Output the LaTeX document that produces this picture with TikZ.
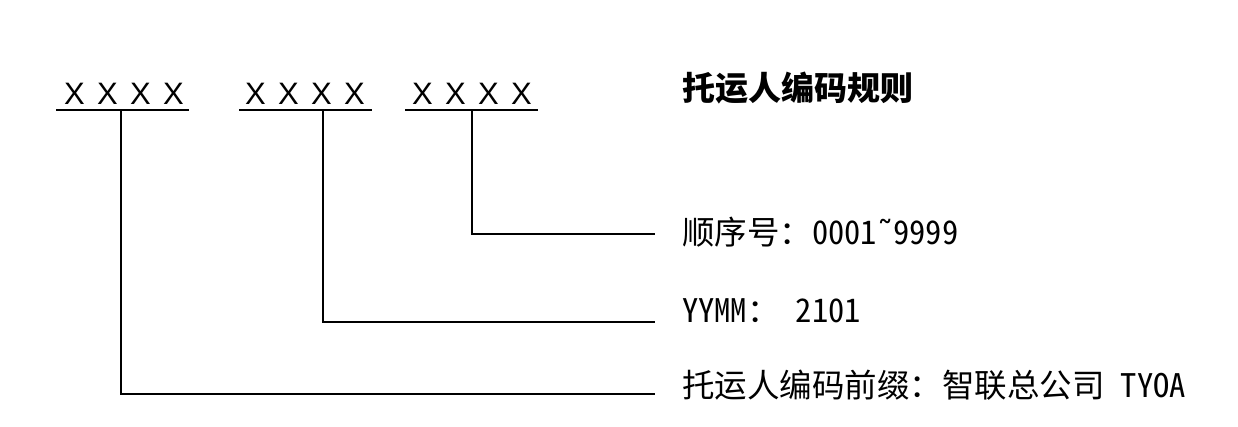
\documentclass[tikz,border=0pt]{standalone}
\usepackage{fontspec}
\setmainfont{Noto Sans CJK SC}[RawFeature=+hwid]
\newfontfamily\xfont{Liberation Sans}
\newfontfamily\symfont{DejaVu Sans}
\newcommand{\xxxx}{X\hskip12.3pt X\hskip12.3pt X\hskip12.3pt X}
\begin{document}
\begin{tikzpicture}[x=1pt,y=-1pt,
  wire/.style={line width=2pt},
  xs/.style={anchor=base, inner sep=0pt, font=\xfont\fontsize{31}{31}\selectfont},
  lbl/.style={anchor=base west, inner sep=0pt, font=\fontsize{32.5}{32.5}\selectfont},
  ttl/.style={anchor=base west, inner sep=0pt, font=\fontsize{33}{33}\selectfont\bfseries}]
\useasboundingbox[fill=white] (0,0) rectangle (1238,427);

% code groups
\node[xs] (g1) at (124,105) {\xxxx};
\node[xs] (g2) at (305,105) {\xxxx};
\node[xs] (g3) at (472,105) {\xxxx};
\coordinate (u1a) at (56,110);  \coordinate (u1b) at (189,110);
\coordinate (u2a) at (239,110); \coordinate (u2b) at (372,110);
\coordinate (u3a) at (405,110); \coordinate (u3b) at (538,110);
\draw[wire] (u1a) -- (u1b);
\draw[wire] (u2a) -- (u2b);
\draw[wire] (u3a) -- (u3b);

% labels
\node[ttl] (title) at (682,101) {托运人编码规则};
\node[lbl] (r1) at (682,245) {顺序号：0001{\symfont ˜}9999};
\node[lbl] (r2) at (682,322) {YYMM： 2101};
\node[lbl] (r3) at (682,397) {托运人编码前缀：智联总公司 TYOA};

% connectors
\coordinate (t1) at (121,110); \coordinate (e1) at (655,394);
\coordinate (t2) at (323,110); \coordinate (e2) at (655,322);
\coordinate (t3) at (472,110); \coordinate (e3) at (655,234);
\draw[wire] (t1) |- (e1);
\draw[wire] (t2) |- (e2);
\draw[wire] (t3) |- (e3);
\end{tikzpicture}
\end{document}
